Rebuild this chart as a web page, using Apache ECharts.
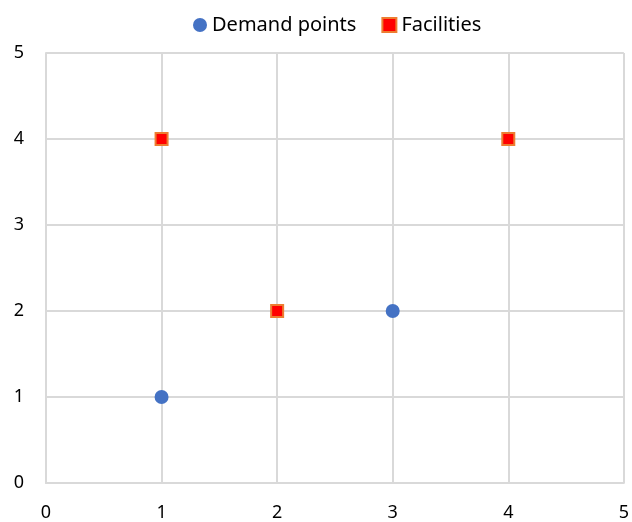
<!DOCTYPE html>
<html>
<head>
<meta charset="utf-8">
<script src="https://cdn.jsdelivr.net/npm/echarts@6/dist/echarts.min.js"></script>
<style>
  html, body { margin: 0; padding: 0; background: #fff; }
  #chart { width: 632px; height: 522px; }
</style>
</head>
<body>
<div id="chart"></div>
<script>
// Point locations on the unit grid
const demandPoints = [[1, 1], [3, 2]];
const facilities = [[1, 4], [2, 2], [4, 4]];
const axisTicks = [0, 1, 2, 3, 4, 5];

const chart = echarts.init(document.getElementById('chart'));

const axisCommon = {
  type: 'value',
  min: axisTicks[0],
  max: axisTicks[axisTicks.length - 1],
  interval: 1,
  axisLine: { show: true, lineStyle: { color: '#d9d9d9', width: 2 } },
  axisTick: { show: false },
  splitLine: { show: true, lineStyle: { color: '#d9d9d9', width: 2 } },
  axisLabel: { color: '#000', fontSize: 18, fontFamily: 'Noto Sans' }
};

chart.setOption({
  animation: false,
  textStyle: { fontFamily: 'Noto Sans' },
  legend: {
    top: 10,
    left: 188,
    itemWidth: 14,
    itemHeight: 14,
    itemGap: 25,
    textStyle: { fontSize: 20, color: '#000', fontFamily: 'Noto Sans' },
    data: [
      { name: 'Demand points', icon: 'circle' },
      { name: 'Facilities', icon: 'rect' }
    ]
  },
  grid: { left: 46, right: 4, top: 53, bottom: 35, containLabel: false },
  xAxis: Object.assign({}, axisCommon, {
    axisLabel: Object.assign({}, axisCommon.axisLabel, { margin: 21 })
  }),
  yAxis: Object.assign({}, axisCommon, {
    axisLabel: Object.assign({}, axisCommon.axisLabel, { margin: 22 })
  }),
  series: [
    {
      name: 'Demand points',
      type: 'scatter',
      symbol: 'circle',
      symbolSize: 14,
      itemStyle: { color: '#4472C4', opacity: 1 },
      data: demandPoints
    },
    {
      name: 'Facilities',
      type: 'scatter',
      symbol: 'rect',
      symbolSize: 12,
      itemStyle: { color: '#FF0000', borderColor: '#ED7D31', borderWidth: 2, opacity: 1 },
      data: facilities
    }
  ]
});
</script>
</body>
</html>
